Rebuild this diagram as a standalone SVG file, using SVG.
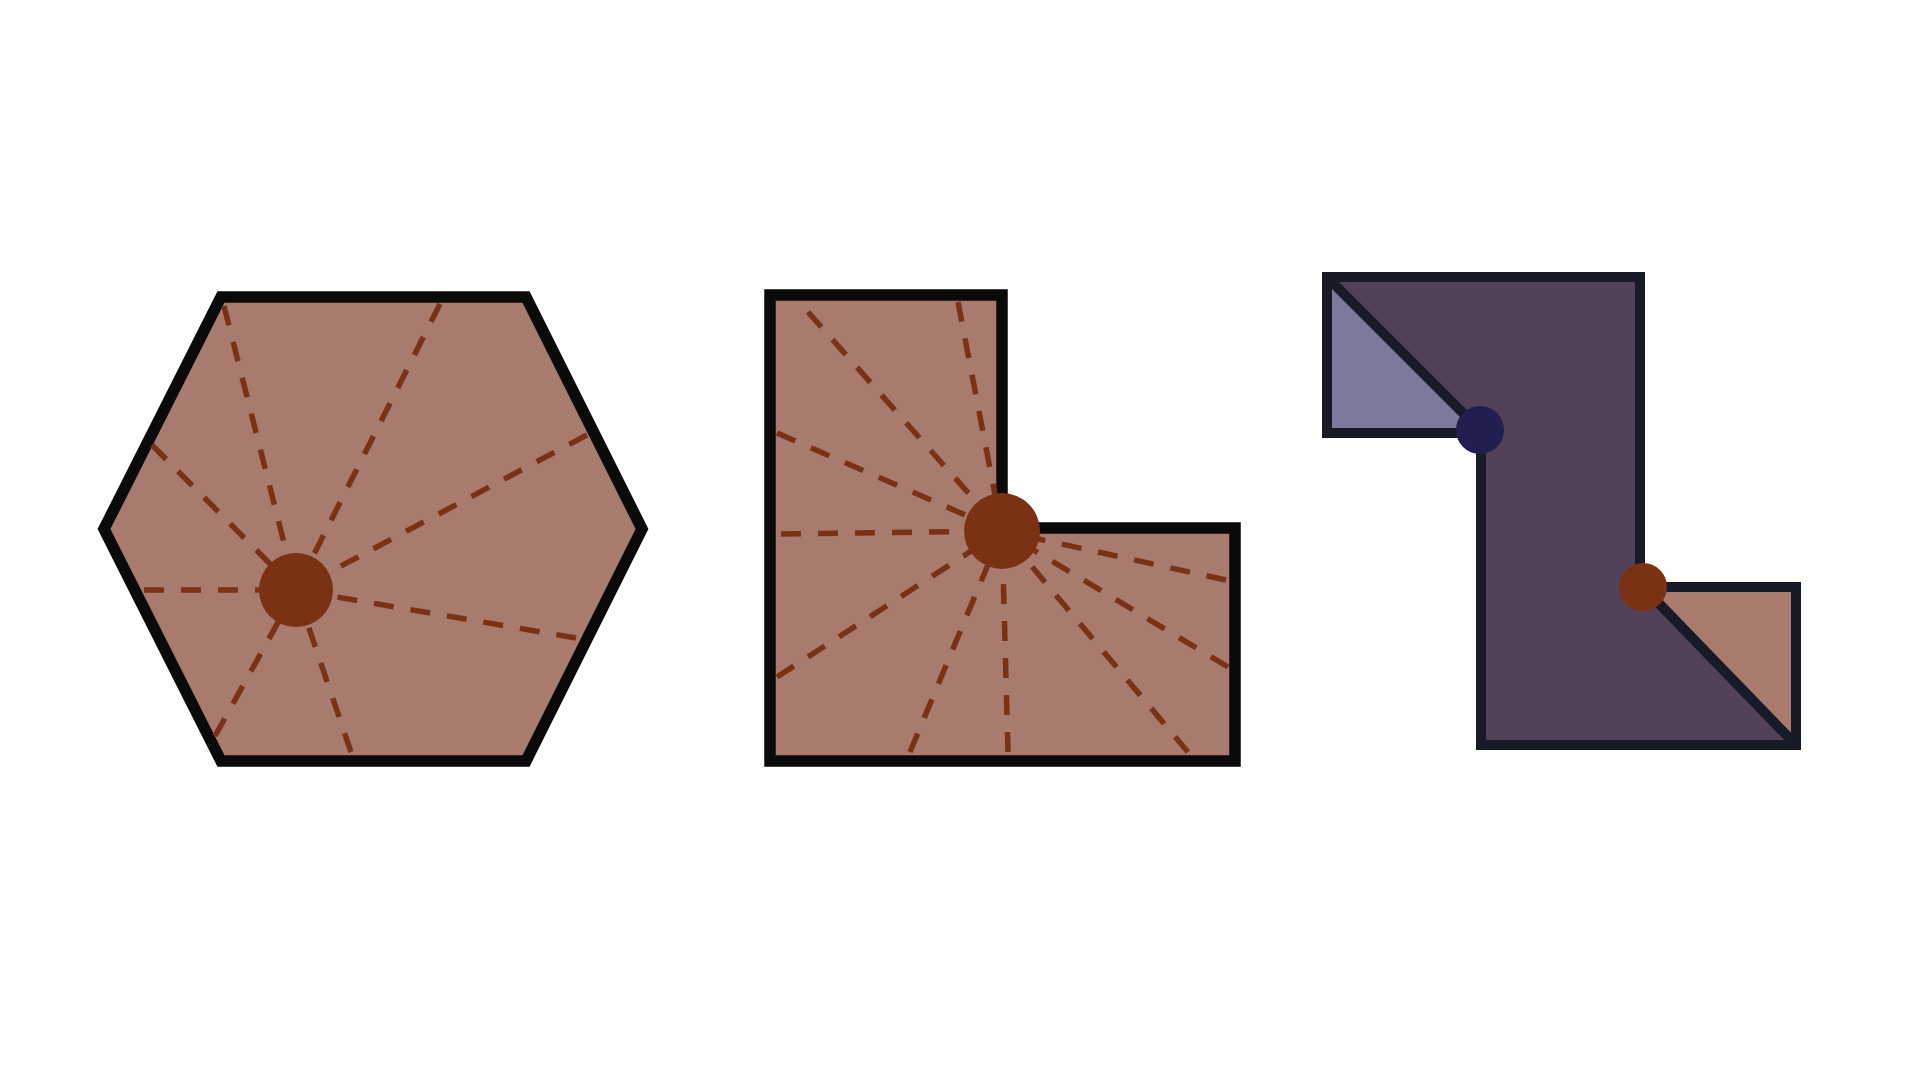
<svg xmlns="http://www.w3.org/2000/svg" width="1920" height="1080" viewBox="0 0 1920 1080">
<style>
.shape{fill:#a97a6e;stroke:#0a0a0a;stroke-width:11.5;stroke-linejoin:miter}
.ray{stroke:#7a3216;stroke-width:5.5;stroke-dasharray:20 17;fill:none}
.hub{fill:#7b3214}
.dark{stroke:#181a28;stroke-width:10;stroke-linejoin:miter;fill:none}
</style>
<rect width="1920" height="1080" fill="#ffffff"/>
<g id="hexagon">
<polygon class="shape" points="221,297 526,297 642,529 526,761 221,761 104,529"/>
<g class="ray-group">
<line class="ray" x2="296" y2="590" x1="224" y1="306"/>
<line class="ray" x2="296" y2="590" x1="440" y1="304"/>
<line class="ray" x2="296" y2="590" x1="587" y1="435"/>
<line class="ray" x2="296" y2="590" x1="576" y1="638"/>
<line class="ray" x2="296" y2="590" x1="351" y1="752"/>
<line class="ray" x2="296" y2="590" x1="215" y1="736"/>
<line class="ray" x2="296" y2="590" x1="144" y1="590"/>
<line class="ray" x2="296" y2="590" x1="152" y1="445"/>
</g>
<circle class="hub" cx="296" cy="590" r="37"/>
</g>
<g id="l-shape">
<polygon class="shape" points="770,295 1002,295 1002,528 1235,528 1235,761 770,761"/>
<g class="ray-group">
<line class="ray" x2="1002" y2="531" x1="808" y1="312"/>
<line class="ray" x2="1002" y2="531" x1="958" y1="302"/>
<line class="ray" x2="1002" y2="531" x1="777" y1="433"/>
<line class="ray" x2="1002" y2="531" x1="781" y1="534"/>
<line class="ray" x2="1002" y2="531" x1="777" y1="677"/>
<line class="ray" x2="1002" y2="531" x1="910" y1="752"/>
<line class="ray" x2="1002" y2="531" x1="1008" y1="752"/>
<line class="ray" x2="1002" y2="531" x1="1188" y1="752"/>
<line class="ray" x2="1002" y2="531" x1="1228" y1="667"/>
<line class="ray" x2="1002" y2="531" x1="1226" y1="580"/>
</g>
<circle class="hub" cx="1002" cy="531" r="38"/>
</g>
<g id="z-shape">
<path d="M1327,277 H1640 V587 H1796 V745 H1481 V433 H1327 Z" fill="#524158"/>
<polygon points="1327,277 1327,433 1481,433" fill="#7a7b9c"/>
<polygon points="1643,587 1796,587 1796,745" fill="#a97a6e"/>
<line class="dark" x1="1327" y1="277" x2="1480" y2="430"/>
<line class="dark" x1="1643" y1="587" x2="1796" y2="745"/>
<path class="dark" d="M1327,277 H1640 V587 H1796 V745 H1481 V433 H1327 Z"/>
<circle cx="1480" cy="430" r="24" fill="#231e50"/>
<circle cx="1643" cy="587" r="24" fill="#7b3214"/>
</g>
</svg>
